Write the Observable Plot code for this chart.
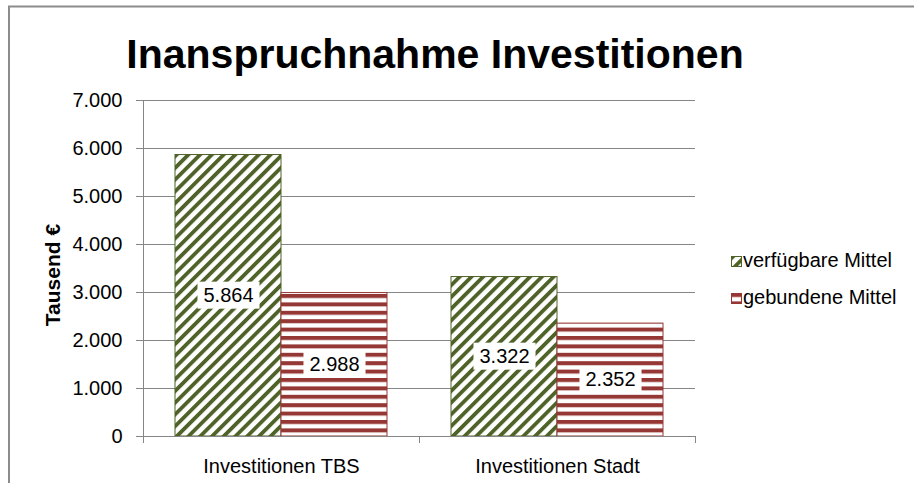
<!DOCTYPE html>
<html><head><meta charset="utf-8">
<script src="https://cdn.jsdelivr.net/npm/d3@7"></script>
<script src="https://cdn.jsdelivr.net/npm/@observablehq/plot@0.6"></script>
<style>
html,body{margin:0;padding:0;background:#fff;overflow:hidden;}
#wrap{position:relative;width:914px;height:483px;font-family:"Liberation Sans",Arial,sans-serif;}
#chart{position:absolute;left:0;top:0;}
#overlay{position:absolute;left:0;top:0;pointer-events:none;}
</style>
</head><body>
<div id="wrap"><div id="chart"></div>
<svg id="overlay" width="914" height="483" xmlns="http://www.w3.org/2000/svg">
  <defs>
    <pattern id="patGreen" patternUnits="userSpaceOnUse" width="8.3" height="8.3" patternTransform="rotate(-45)">
      <rect width="8.3" height="8.3" fill="#fff"/>
      <rect y="0" width="8.3" height="3.8" fill="#4F6228"/>
    </pattern>
    <pattern id="patRed" patternUnits="userSpaceOnUse" width="8.4" height="8.4">
      <rect width="8.4" height="8.4" fill="#fff"/>
      <rect y="0" width="8.4" height="4" fill="#953735"/>
    </pattern>
  </defs>
</svg>
</div>
<script>
// ---- data ----
const categories = ["Investitionen TBS", "Investitionen Stadt"];
const seriesNames = ["verfügbare Mittel", "gebundene Mittel"];
const verfuegbareMittel = [5864, 3322];
const gebundeneMittel = [2988, 2352];
const yTicks = [0, 1000, 2000, 3000, 4000, 5000, 6000, 7000];
const yLabel = "Tausend €";
const titleText = "Inanspruchnahme Investitionen";

const seriesFill = ["url(#patGreen)", "url(#patRed)"];
const seriesStroke = ["#4F6228", "#953735"];

const data = categories.flatMap((c, i) => [
  {category: c, series: seriesNames[0], value: verfuegbareMittel[i]},
  {category: c, series: seriesNames[1], value: gebundeneMittel[i]}
]);

const de = d3.formatLocale({decimal: ",", thousands: ".", grouping: [3], currency: ["", " €"]});
const fmt = de.format(",.0f");
const gray = "#868686";
const font = "Liberation Sans, Arial, sans-serif";

const plot = Plot.plot({
  width: 914, height: 483,
  marginLeft: 143, marginRight: 219, marginTop: 100, marginBottom: 47,
  style: {fontFamily: font, fontSize: "20px", color: "#000", background: "transparent"},
  fx: {domain: categories, padding: 0, label: null},
  x: {domain: seriesNames, paddingInner: 0, paddingOuter: 0.29, axis: null},
  y: {domain: [0, 7000], label: null},
  marks: [
    Plot.gridY(yTicks, {stroke: gray, strokeOpacity: 1, strokeWidth: 1}),
    ...seriesNames.map((s, i) => Plot.barY(data, {
      filter: d => d.series === s,
      fx: "category", x: "series", y: "value",
      fill: seriesFill[i], stroke: seriesStroke[i], strokeWidth: 1
    })),
    Plot.text(data, {
      fx: "category", x: "series", y: d => d.value / 2,
      text: d => fmt(d.value), fontSize: 20, fill: "#000"
    }),
    Plot.axisY(yTicks, {tickSize: 7, tickPadding: 14, tickFormat: fmt, stroke: gray, fontSize: 20, label: null}),
    Plot.axisFx({anchor: "bottom", tickSize: 0, tickPadding: 22, fontSize: 20, label: null})
  ]
});
document.getElementById("chart").appendChild(plot);

const svg = d3.select(plot);
// white boxes behind value labels
const labelSet = new Set(data.map(d => fmt(d.value)));
const labelNodes = svg.selectAll("text").nodes().filter(n =>
  labelSet.has(n.textContent) && !(n.closest && n.closest('[aria-label*="tick"]')));
labelNodes.forEach(n => {
  const b = n.getBBox();
  const px = 6, py = 2.5;
  const r = document.createElementNS("http://www.w3.org/2000/svg", "rect");
  const tr = n.getAttribute("transform");
  if (tr) r.setAttribute("transform", tr);
  r.setAttribute("x", b.x - px);
  r.setAttribute("y", b.y - py);
  r.setAttribute("width", b.width + 2 * px);
  r.setAttribute("height", b.height + 2 * py);
  r.setAttribute("fill", "#ffffff");
  r.setAttribute("stroke", "none");
  n.parentNode.insertBefore(r, n);
});
// axis line and category boundary ticks
const fxS = plot.scale("fx"), yS = plot.scale("y");
const x0 = fxS.apply(categories[0]);
const xEnd = fxS.apply(categories[categories.length - 1]) + fxS.bandwidth;
const y0 = yS.apply(0), yTop = yS.apply(7000);
const lines = svg.append("g").attr("stroke", gray).attr("stroke-width", 1);
lines.append("line").attr("x1", x0 + 0.5).attr("x2", x0 + 0.5).attr("y1", yTop).attr("y2", y0 + 7);
lines.append("line").attr("x1", x0).attr("x2", xEnd).attr("y1", y0 + 0.5).attr("y2", y0 + 0.5);
[...categories.map(c => fxS.apply(c)), xEnd].forEach(x => {
  lines.append("line").attr("x1", x + 0.5).attr("x2", x + 0.5).attr("y1", y0).attr("y2", y0 + 7);
});

// overlay: border, title, axis label, legend
const ov = d3.select("#overlay");
ov.append("path").attr("d", "M9,490 L9,6.5 L920,6.5").attr("fill", "none").attr("stroke", "#8c8c8c").attr("stroke-width", 2);
ov.append("text").attr("x", 435).attr("y", 68).attr("text-anchor", "middle")
  .attr("font-family", font).attr("font-weight", "bold").attr("font-size", 41).text(titleText);
ov.append("text").attr("transform", "translate(60,275) rotate(-90)").attr("text-anchor", "middle")
  .attr("font-family", font).attr("font-weight", "bold").attr("font-size", 21).text(yLabel);
const legY = [256, 293];
seriesNames.forEach((s, i) => {
  const sw = ov.append("svg").attr("x", 731).attr("y", legY[i]).attr("width", 11).attr("height", 11);
  sw.append("rect").attr("x", 0.5).attr("y", 0.5).attr("width", 10).attr("height", 10)
    .attr("fill", seriesFill[i]).attr("stroke", seriesStroke[i]).attr("stroke-width", 1);
  ov.append("text").attr("x", 743).attr("y", legY[i] + 11).attr("font-family", font)
    .attr("font-size", 20).text(s);
});
</script>
</body></html>
